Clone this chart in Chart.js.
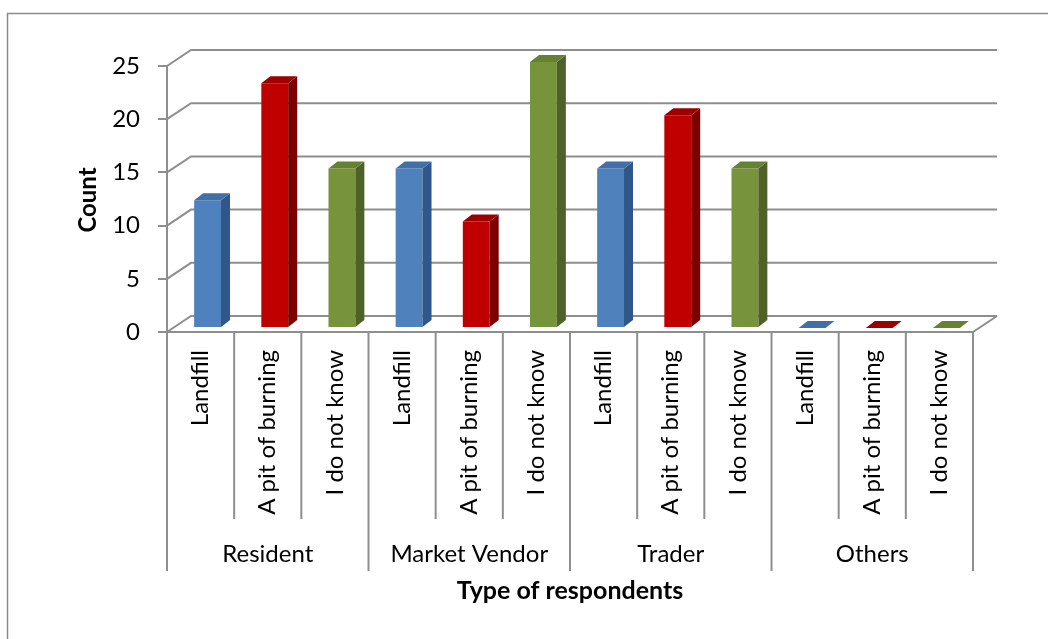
<!DOCTYPE html>
<html>
<head>
<meta charset="utf-8">
<script src="https://cdn.jsdelivr.net/npm/chart.js@4.4.1/dist/chart.umd.min.js"></script>
<style>
html,body{margin:0;padding:0;background:#fff;}
canvas{display:block;}
</style>
</head>
<body>
<canvas id="c" width="1048" height="639"></canvas>
<script>
// ---- data ----
const categories = ['Landfill','A pit of burning','I do not know',
                    'Landfill','A pit of burning','I do not know',
                    'Landfill','A pit of burning','I do not know',
                    'Landfill','A pit of burning','I do not know'];
const groups = ['Resident','Market Vendor','Trader','Others'];
const values = [12,23,15, 15,10,25, 15,20,15, 0,0,0];
const yTicks = [0,5,10,15,20,25];
const xTitle = 'Type of respondents';
const yTitle = 'Count';

// ---- style ----
const FONT = 'Lato, "Open Sans", sans-serif';
const GRID = '#8e8e8e';
const faces = [
  {front:['#5a8ccb','#4f81bd','#4574ae'], side:'#30578a', top:'#416fa8'},
  {front:['#cf0a0a','#c00000','#b00000'], side:'#7c0000', top:'#9e0000'},
  {front:['#84a244','#77933c','#6b8636'], side:'#4e6128', top:'#66812f'}
];
const D = {dx:24, dy:-16};      // wall depth
const B = {ox:7, oy:-4, dx:9, dy:-7}; // bar placement and bar depth

const threeD = {
  id:'threeD',
  beforeDatasetsDraw(chart){
    const {ctx, chartArea:a, scales:{x,y}} = chart;
    ctx.save();
    ctx.strokeStyle = GRID; ctx.lineWidth = 2; ctx.lineCap='butt';
    yTicks.forEach(v=>{
      const py = y.getPixelForValue(v);
      ctx.beginPath();
      ctx.moveTo(a.left, py); ctx.lineTo(a.left+D.dx, py+D.dy);
      ctx.lineTo(a.right+D.dx, py+D.dy);
      ctx.stroke();
    });
    const p0 = y.getPixelForValue(0);
    ctx.beginPath();
    ctx.moveTo(a.left, p0); ctx.lineTo(a.right, p0); ctx.lineTo(a.right+D.dx, p0+D.dy);
    ctx.stroke();
    const n = categories.length;
    for(let i=0;i<=n;i++){
      let bx;
      if(i===0) bx=a.left; else if(i===n) bx=a.right;
      else bx=(x.getPixelForValue(i-1)+x.getPixelForValue(i))/2;
      const end = (i%3===0) ? 571 : 519;
      ctx.beginPath(); ctx.moveTo(bx, p0-1); ctx.lineTo(bx, end); ctx.stroke();
    }
    ctx.restore();
    ctx.save();
    ctx.translate(B.ox, B.oy);
  },
  afterDatasetsDraw(chart){
    const {ctx} = chart;
    const meta = chart.getDatasetMeta(0);
    meta.data.forEach((el,i)=>{
      const f = faces[i%3];
      const x0 = el.x - el.width/2, x1 = el.x + el.width/2;
      const top = el.y, base = el.base;
      ctx.fillStyle = f.side;
      ctx.beginPath();
      ctx.moveTo(x1, top); ctx.lineTo(x1+B.dx, top+B.dy);
      ctx.lineTo(x1+B.dx, base+B.dy); ctx.lineTo(x1, base); ctx.closePath(); ctx.fill();
      ctx.fillStyle = f.top;
      ctx.beginPath();
      ctx.moveTo(x0, top); ctx.lineTo(x1, top); ctx.lineTo(x1+B.dx, top+B.dy);
      ctx.lineTo(x0+B.dx, top+B.dy); ctx.closePath(); ctx.fill();
    });
    ctx.restore();
    ctx.save();
    ctx.strokeStyle='#8a8a8a'; ctx.lineWidth=1.5;
    ctx.beginPath(); ctx.moveTo(7.5, 639); ctx.lineTo(7.5, 13.5); ctx.lineTo(1048, 13.5); ctx.stroke();
    ctx.restore();
  },
  afterDraw(chart){
    const {ctx, scales:{x}} = chart;
    ctx.save();
    ctx.fillStyle='#000';
    ctx.textAlign='center'; ctx.textBaseline='alphabetic';
    ctx.font = '24px ' + FONT;
    groups.forEach((g,gi)=>{
      const cx = (x.getPixelForValue(gi*3)+x.getPixelForValue(gi*3+2))/2;
      ctx.fillText(g, cx, 562);
    });
    const a = chart.chartArea;
    ctx.font = 'bold 25px ' + FONT;
    ctx.fillText(xTitle, (a.left+a.right)/2, 599);
    ctx.font = 'bold 24px ' + FONT;
    ctx.translate(96, 200); ctx.rotate(-Math.PI/2);
    ctx.fillText(yTitle, 0, 0);
    ctx.restore();
  }
};

new Chart(document.getElementById('c'), {
  type:'bar',
  data:{
    labels: categories,
    datasets:[{
      data: values,
      backgroundColor: (c)=>{
        const f = faces[c.dataIndex%3];
        const el = c.chart.getDatasetMeta(0).data[c.dataIndex];
        if(!el || !isFinite(el.x)) return f.front[1];
        const g = c.chart.ctx.createLinearGradient(el.x-el.width/2,0,el.x+el.width/2,0);
        g.addColorStop(0,f.front[0]); g.addColorStop(0.5,f.front[1]); g.addColorStop(1,f.front[2]);
        return g;
      },
      borderWidth:0,
      categoryPercentage:1,
      barPercentage:0.4,
      clip:false
    }]
  },
  options:{
    responsive:false, animation:false, devicePixelRatio:1,
    layout:{padding:{top:66,right:75,left:0,bottom:0}},
    plugins:{legend:{display:false}, tooltip:{enabled:false}},
    scales:{
      x:{
        grid:{display:false, drawTicks:false},
        border:{display:false},
        ticks:{minRotation:90,maxRotation:90,autoSkip:false,padding:18,color:'#000',font:{family:FONT,size:24}},
        afterFit:(s)=>{s.height=307;}
      },
      y:{
        min:0,max:25,
        afterBuildTicks:(s)=>{s.ticks = yTicks.map(v=>({value:v}));},
        ticks:{padding:18,color:'#000',font:{family:FONT,size:24}},
        grid:{drawOnChartArea:false, drawTicks:true, tickLength:9, color:GRID, lineWidth:2},
        border:{color:GRID, width:2},
        afterFit:(s)=>{s.width=167;}
      }
    }
  },
  plugins:[threeD]
});
</script>
</body>
</html>
